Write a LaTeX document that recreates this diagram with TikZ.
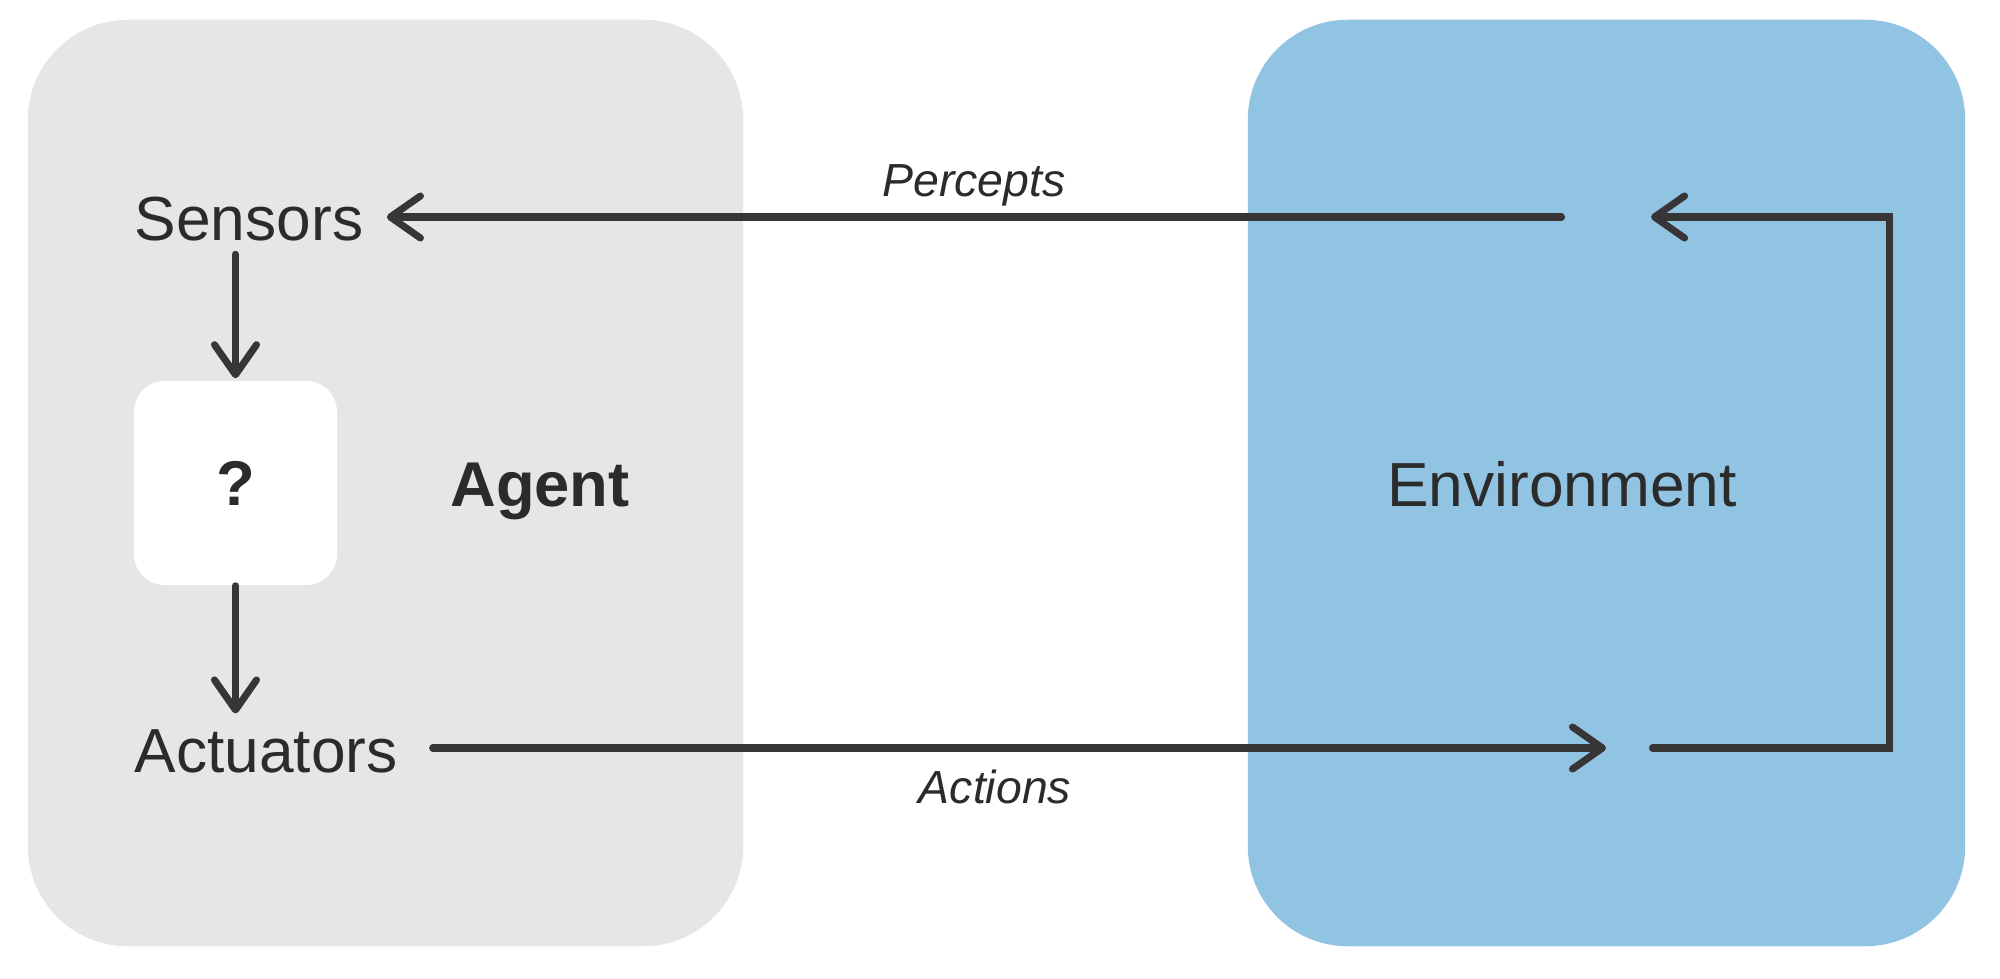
\documentclass[tikz,border=0pt]{standalone}
\usepackage{fontspec}
\setmainfont{Liberation Sans}
\usetikzlibrary{arrows.meta}
\definecolor{agentgray}{HTML}{E5E6E8}
\definecolor{envblue}{HTML}{91C3E2}
\definecolor{qwhite}{HTML}{FFFFFF}
\definecolor{linedark}{HTML}{373536}
\definecolor{textdark}{HTML}{2B2B2B}
\tikzset{
  panel/.style={rectangle, rounded corners=1cm, draw=none, inner sep=0pt},
  label/.style={inner sep=0pt, anchor=base, text=textdark, font=\fontsize{17.7}{20}\selectfont},
  flowlabel/.style={inner sep=0pt, anchor=base, text=textdark, font=\fontsize{13.2}{16}\selectfont\itshape},
  arr/.style={draw=linedark, line width=2pt, line cap=round,
    -{Straight Barb[length=3mm, width=4.2mm, line cap=round, line join=round]}},
  plainline/.style={draw=linedark, line width=2pt, line cap=round, line join=miter}
}
\begin{document}
\begin{tikzpicture}[x=0.01cm, y=-0.01cm]
\useasboundingbox (0,0) rectangle (2000,979);
% panels
\node[panel, fill=agentgray, minimum width=7.15cm, minimum height=9.26cm] (agentbox) at (385.5,483) {};
\node[panel, fill=envblue, minimum width=7.17cm, minimum height=9.26cm] (envbox) at (1606.5,483) {};
% inner box
\node[rectangle, rounded corners=0.31cm, fill=qwhite, minimum width=2.03cm, minimum height=2.04cm, inner sep=0pt,
      text=textdark, font=\fontsize{18}{20}\selectfont\bfseries] (qbox) at (235.5,483) {?};
% labels
\node[label] (sensors) at (249,240) {Sensors};
\node[label] (actuators) at (266,772) {Actuators};
\node[label, font=\fontsize{18}{20}\selectfont\bfseries] (agent) at (540,506) {Agent};
\node[label] (environment) at (1562,506) {Environment};
\node[flowlabel] (percepts) at (974,197) {Percepts};
\node[flowlabel] (actions) at (995,803) {Actions};
% free ends on the environment side
\coordinate (ptail) at (1561.5,217);
\coordinate (ahead) at (1606,748);
\coordinate (loopstart) at (1652.5,748);
\coordinate (loopc1) at (1889,748);
\coordinate (loopc2) at (1889,217);
\coordinate (looptip) at (1651,217);
% connectors
\draw[arr, shorten >=0.23cm] (ptail) -- (sensors.east |- ptail);
\draw[arr, shorten <=0.345cm] (actuators.east |- ahead) -- (ahead);
\draw[arr, line join=miter] (loopstart) -- (loopc1) -- (loopc2) -- (looptip);
\draw[arr, shorten <=0.13cm, shorten >=0.02cm] (sensors.south -| qbox.north) -- (qbox.north);
\draw[arr, shorten >=0.15cm] (qbox.south) -- (qbox.south |- actuators.north);
\end{tikzpicture}
\end{document}
